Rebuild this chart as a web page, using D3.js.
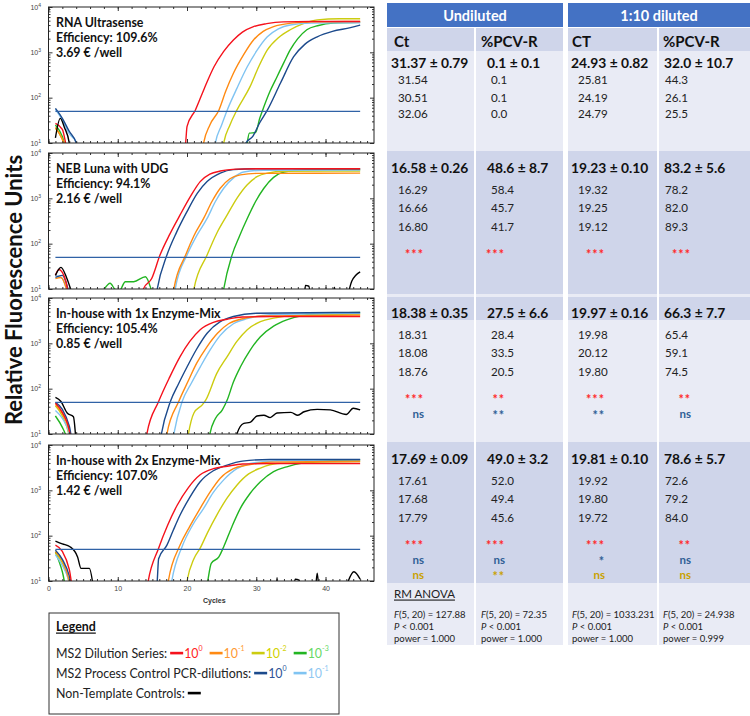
<!DOCTYPE html>
<html lang="en">
<head>
<meta charset="UTF-8">
<title>MS2 qPCR comparison</title>
<script src="https://d3js.org/d3.v7.min.js"></script>
<style>
  body { margin: 0; background: #fff; }
  svg { font-family: Lato, "Open Sans", sans-serif; }
  .tick text { font-family: "Liberation Sans", Arial, sans-serif; font-size: 7px; fill: #444; }
  .tick line { stroke: #333; }
</style>
</head>
<body>
<svg width="750" height="716"></svg>
<script>
// ---- data ----
const panelTitles = ["RNA Ultrasense", "NEB Luna with UDG", "In-house with 1x Enzyme-Mix", "In-house with 2x Enzyme-Mix"];
const efficiencies = ["109.6%", "94.1%", "105.4%", "107.0%"];
const costs = ["3.69", "2.16", "0.85", "1.42"];
const threshold = 50;

// [cycle, RFU]; values under 10 fall below the axis and get clipped
const ultrasenseCurves = [
  { key: "d3", pts: [[1,25],[2,14],[3,4],[28.4,4],[28.7,10],[29,16.5],[29.9,17],[30.5,35],[31.1,63],[32,140],[33,290],[34,600],[34.9,1130],[36,2000],[37.3,3150],[39,3900],[41.1,4400],[45,4600]] },
  { key: "d2", pts: [[1,21],[1.8,14],[2.5,8],[3,4],[24.9,4],[25.3,10],[26.2,25],[27.2,53],[29.1,175],[30.4,500],[31.6,1130],[33.2,2100],[34.9,3150],[36.8,4300],[38.8,5200],[42,5500],[45,5500]] },
  { key: "pc1", pts: [[1,55],[2,32],[3,16],[4.1,10],[4.5,4],[23.7,4],[24.1,10],[25,25],[25.8,53],[27.2,160],[28.7,480],[30.1,1100],[31.6,2200],[33.2,3300],[34.9,4000],[38,4400],[45,4500]] },
  { key: "d1", pts: [[1,22],[2,12],[2.8,5],[22,4],[22.4,10],[23.3,25],[24.6,53],[25.6,140],[26.7,345],[28.2,900],[29.6,1870],[31,2900],[32.5,3700],[35,4400],[38,4700],[45,4800]] },
  { key: "pc0", pts: [[1,58],[2,35],[3,18],[4,10],[4.3,4],[28.2,4],[28.5,10],[29.5,14],[30.5,28],[31.6,53],[33.5,210],[35.4,800],[37,1500],[38.8,2200],[41,2900],[43.6,3500],[45,4000]] },
  { key: "d0", pts: [[1,27],[2,20],[3,5],[19.2,4],[19.8,10],[20,23],[21.2,53],[22.5,160],[23.9,480],[25.3,1050],[26.7,1870],[28,2800],[29.6,3700],[31.5,4300],[33.9,4700],[38,4800],[45,4800]] },
  { key: "ntc", pts: [[1,13],[1.7,35],[2.3,22],[3,10],[3.3,4],[45,4]] }
];
const nebLunaCurves = [
  { key: "d3", pts: [[1,4],[7.5,8],[8.9,13.4],[9.6,9.8],[10.2,9],[11.1,14.5],[12.3,14.5],[14,18.7],[14.8,10],[15.2,6],[24.9,4],[25.3,10],[26.5,56],[27.6,150],[28.7,360],[29.9,850],[31.1,1670],[32.5,2900],[34,3800],[37,4250],[45,4300]] },
  { key: "d2", pts: [[1,4],[20.6,4],[21,10],[22.9,56],[24.3,170],[25.8,430],[27.2,1000],[28.7,2000],[30.1,3000],[31.6,3600],[34,3950],[45,4000]] },
  { key: "pc1", pts: [[1,20],[2,17],[3,6],[3.4,4],[17.9,4],[18.3,10],[20,56],[21.4,150],[22.9,360],[24.1,850],[25.3,1670],[26.8,2900],[28.2,3800],[31,4150],[45,4200]] },
  { key: "d1", pts: [[1,17],[1.8,18],[2.8,8],[3.3,4],[17.7,4],[18.1,10],[19.8,56],[21,150],[22.4,360],[23.6,850],[24.8,1670],[26.2,2700],[27.7,3300],[30,3550],[45,3600]] },
  { key: "pc0", pts: [[1,18],[2,20],[3,8],[3.5,4],[15.3,4],[15.7,10],[17.1,56],[18.5,180],[20,510],[21.5,1300],[22.9,2340],[24.8,3600],[26.7,4300],[30,4500],[45,4500]] },
  { key: "d0", pts: [[1,20],[1.5,27],[2.5,15],[3.2,5],[13.3,5],[13.7,10],[14.9,17],[16.1,56],[17.5,160],[19,430],[20.5,1100],[21.9,2340],[23.3,3400],[24.8,4000],[27,4400],[30,4500],[45,4500]] },
  { key: "ntc", pts: [[1,20],[1.8,30],[2.6,18],[3.4,8],[4,4],[36.8,4],[37.1,12],[37.6,11.5],[38,4],[41,4],[41.3,11],[41.6,4],[43,6],[43.8,15],[45,24]] }
];
const inhouse1xCurves = [
  { key: "d3", pts: [[1,25],[2,14],[2.8,7],[3.2,4],[22.9,4],[23.3,10],[24.1,22],[25.1,34],[25.8,56],[26.7,140],[27.7,300],[29.1,700],[30.6,1400],[32.5,2400],[34.4,3300],[39,4500],[45,4800]] },
  { key: "d2", pts: [[1,42],[2,25],[3,9],[3.4,4],[19.8,4],[20.2,10],[21,29],[22.2,44],[22.7,56],[24.3,218],[25.8,510],[27.2,1100],[28.7,2000],[30.6,3000],[32.5,3600],[36,4200],[45,4400]] },
  { key: "pc1", pts: [[1,33],[2,22],[3,10],[3.5,4],[17.7,4],[18.1,10],[19.3,52],[20.6,130],[21.9,300],[23.3,700],[24.8,1500],[26.7,2700],[28.7,3500],[32,4300],[45,4600]] },
  { key: "d1", pts: [[1,45],[2,28],[3,12],[3.6,4],[16.7,4],[17.1,10],[18.8,52],[20.1,140],[21.4,365],[22.9,850],[24.4,1670],[26,2700],[27.7,3400],[31,4000],[45,4200]] },
  { key: "pc0", pts: [[1,50],[2,35],[3,15],[3.8,4],[15.9,4],[16.3,10],[17.6,52],[18.8,130],[20,300],[21.4,750],[22.9,1670],[24.8,3000],[26.7,3900],[30,4600],[45,4800]] },
  { key: "d0", pts: [[1,48],[2,30],[3,12],[3.5,4],[13.8,4],[14.2,10],[15.9,52],[17.5,180],[19,510],[20.4,1100],[21.9,2000],[23.8,2900],[25.8,3400],[28,3800],[32,3900],[45,3900]] },
  { key: "ntc", pts: [[1,64],[1.8,52],[2.7,29],[3.6,24],[4.2,4],[26.9,4],[27.2,10],[28.2,17.2],[29.1,18],[30.1,25],[31.1,26],[32,23],[33,29],[35,30],[36,26],[36.9,31],[38.8,35],[40.7,34],[43,27],[44,37],[45,34]] }
];
const inhouse2xCurves = [
  { key: "d3", pts: [[1,44],[2,16],[2.8,5],[22.6,4],[23,10],[23.5,24.6],[24.6,34],[25.3,57],[26.5,160],[27.7,400],[29.1,850],[30.6,1550],[32.5,2600],[34.4,3300],[39,4400],[45,4700]] },
  { key: "d2", pts: [[1,42],[2,25],[3,9],[3.4,4],[19.6,4],[20,10],[21,31],[21.9,53],[23,120],[24.3,285],[25.7,650],[27.2,1300],[28.9,2300],[30.6,3100],[33,3900],[45,4300]] },
  { key: "pc1", pts: [[1,38],[2,22],[3,9],[3.4,4],[17.4,4],[17.8,10],[19.3,58],[20.8,170],[22.4,400],[23.8,900],[25.3,1700],[27.2,3000],[29.1,3900],[33,4500],[45,4700]] },
  { key: "d1", pts: [[1,44],[2,28],[3,10],[3.5,4],[16.9,4],[17.3,10],[19,62],[20.4,160],[21.9,400],[23.3,900],[24.8,1850],[26.7,3000],[28.7,3600],[32,4200],[45,4400]] },
  { key: "pc0", pts: [[1,48],[2,30],[3,13],[3.7,4],[15.4,4],[15.7,10],[15.9,31],[17.1,62],[18,130],[19,285],[20.4,700],[21.9,1550],[23.8,2700],[25.8,3600],[28,4400],[32,4800],[45,4800]] },
  { key: "d0", pts: [[1,62],[2,45],[3,18],[3.8,4],[14,4],[14.4,10],[15.9,53],[17.2,170],[18.6,475],[20.2,1150],[21.9,2200],[23.8,3000],[25.8,3400],[28,3800],[32,3900],[45,3900]] },
  { key: "ntc", pts: [[1,76],[2,66],[3.1,57],[4.2,34],[4.7,19],[5.9,19],[6.9,4],[32.8,4],[33,11.8],[33.2,4],[35.3,4],[35.6,11],[36.2,10.5],[36.5,4],[38.4,4],[38.8,14.8],[39.2,4],[42,4],[44.1,16],[45,11]] }
];
const panelCurves = [ultrasenseCurves, nebLunaCurves, inhouse1xCurves, inhouse2xCurves];

const groupHeaders = ["Undiluted", "1:10 diluted"];
const columnHeaders = ["Ct", "%PCV-R", "CT", "%PCV-R"];
const meanValues = [
  ["31.37 ± 0.79", "0.1 ± 0.1", "24.93 ± 0.82", "32.0 ± 10.7"],
  ["16.58 ± 0.26", "48.6 ± 8.7", "19.23 ± 0.10", "83.2 ± 5.6"],
  ["18.38 ± 0.35", "27.5 ± 6.6", "19.97 ± 0.16", "66.3 ± 7.7"],
  ["17.69 ± 0.09", "49.0 ± 3.2", "19.81 ± 0.10", "78.6 ± 5.7"]
];
const replicates = [
  [["31.54", "0.1", "25.81", "44.3"], ["30.51", "0.1", "24.19", "26.1"], ["32.06", "0.0", "24.79", "25.5"]],
  [["16.29", "58.4", "19.32", "78.2"], ["16.66", "45.7", "19.25", "82.0"], ["16.80", "41.7", "19.12", "89.3"]],
  [["18.31", "28.4", "19.98", "65.4"], ["18.08", "33.5", "20.12", "59.1"], ["18.76", "20.5", "19.80", "74.5"]],
  [["17.61", "52.0", "19.92", "72.6"], ["17.68", "49.4", "19.80", "79.2"], ["17.79", "45.6", "19.72", "84.0"]]
];
const sigVsUltrasense = [null, ["***", "***", "***", "***"], ["***", "**", "***", "**"], ["***", "***", "***", "**"]];
const sigVsNeb = [null, null, ["ns", "**", "**", "ns"], ["ns", "ns", "*", "ns"]];
const sigVs1x = [null, null, null, ["ns", "**", "ns", "ns"]];
const anovaF = ["127.88", "72.35", "1033.231", "24.938"];
const anovaPower = ["1.000", "1.000", "1.000", "0.999"];

// ---- styles ----
const lineColors = { d0: "#f5121c", d1: "#ff8a12", d2: "#cccc10", d3: "#22b522", pc0: "#1c4a8c", pc1: "#80c4f2", ntc: "#000" };
const legendTextColors = { d0: "#ff1f1f", d1: "#ff9933", d2: "#d2d200", d3: "#66d966", pc0: "#2f5597", pc1: "#90c8f2" };

let svg = d3.select("svg");
svg.append("rect").attr("width", 750).attr("height", 716).attr("fill", "#fff");

// ---- amplification panels ----
let panelTops = [7, 153, 298, 445];
let panelH = 136;
let x = d3.scaleLinear().domain([0, 47]).range([48.5, 374]);

panelTops.forEach((top, i) => {
  let y = d3.scaleLog().domain([10, 10000]).range([top + panelH, top]);
  let g = svg.append("g");

  g.append("clipPath").attr("id", "clip" + i)
    .append("rect").attr("x", x(0)).attr("y", top).attr("width", x(47) - x(0)).attr("height", panelH);

  let line = d3.line()
    .x(d => x(d[0]))
    .y(d => y(d[1]))
    .curve(d3.curveMonotoneX);

  let plot = g.append("g").attr("clip-path", `url(#clip${i})`);
  plot.selectAll(".curve")
    .data(panelCurves[i])
    .enter().append("path")
    .attr("class", "curve")
    .attr("d", d => line(d.pts))
    .attr("fill", "none")
    .attr("stroke", d => lineColors[d.key])
    .attr("stroke-width", 1.4);

  plot.append("line")
    .attr("x1", x(1)).attr("x2", x(45))
    .attr("y1", y(threshold)).attr("y2", y(threshold))
    .attr("stroke", "#3062a6").attr("stroke-width", 1.2);

  // ticks (inward on all sides)
  let minorY = [];
  [10, 100, 1000].forEach(dec => { for (let k = 2; k < 10; k++) minorY.push(dec * k); });

  g.append("g").attr("transform", `translate(0,${top + panelH})`)
    .call(d3.axisBottom(x).tickValues(d3.range(0, 47, 1)).tickSize(-2).tickFormat(""));
  g.append("g").attr("transform", `translate(0,${top + panelH})`)
    .call(d3.axisBottom(x).tickValues(d3.range(0, 41, 10)).tickSize(-4).tickPadding(5)
      .tickFormat(i === 3 ? d3.format("d") : ""));
  g.append("g").attr("transform", `translate(0,${top})`)
    .call(d3.axisTop(x).tickValues(d3.range(0, 47, 2)).tickSize(-2).tickFormat(""));
  g.append("g").attr("transform", `translate(0,${top})`)
    .call(d3.axisTop(x).tickValues(d3.range(0, 41, 10)).tickSize(-4).tickFormat(""));
  g.append("g").attr("transform", `translate(${x(0)},0)`)
    .call(d3.axisLeft(y).tickValues(minorY).tickSize(-2).tickFormat(""));
  g.append("g").attr("transform", `translate(${x(0)},0)`)
    .call(d3.axisLeft(y).tickValues([10, 100, 1000, 10000]).tickSize(-4).tickFormat(""));
  g.append("g").attr("transform", `translate(${x(47)},0)`)
    .call(d3.axisRight(y).tickValues(minorY).tickSize(-2).tickFormat(""));
  g.append("g").attr("transform", `translate(${x(47)},0)`)
    .call(d3.axisRight(y).tickValues([10, 100, 1000, 10000]).tickSize(-4).tickFormat(""));
  g.selectAll(".domain").remove();

  // log labels 10^n
  let lab = g.selectAll(".ylab").data([10, 100, 1000, 10000]).enter().append("text")
    .attr("class", "ylab")
    .attr("x", 41).attr("y", d => y(d) + 2.5)
    .attr("text-anchor", "end")
    .style("font-family", "'Liberation Sans', Arial, sans-serif")
    .style("font-size", "7px").attr("fill", "#444");
  lab.append("tspan").text("10");
  lab.append("tspan").attr("dy", -3).style("font-size", "5px").text(d => Math.round(Math.log10(d)));

  g.append("rect")
    .attr("x", x(0)).attr("y", top).attr("width", x(47) - x(0)).attr("height", panelH)
    .attr("fill", "none").attr("stroke", "#222").attr("stroke-width", 1);

  let info = [panelTitles[i], "Efficiency: " + efficiencies[i], costs[i] + " € /well"];
  g.selectAll(".info").data(info).enter().append("text")
    .attr("x", 56).attr("y", (d, k) => top + 15 + k * 15)
    .attr("dominant-baseline", "central")
    .attr("font-weight", "bold").attr("font-size", "12.4px").attr("fill", "#111")
    .text(d => d);

  if (i === 3) {
    g.append("text").attr("x", (x(0) + x(47)) / 2 + 3).attr("y", top + panelH + 19)
      .attr("text-anchor", "middle").attr("dominant-baseline", "central")
      .style("font-family", "'Liberation Sans', Arial, sans-serif")
      .attr("font-weight", "bold").attr("font-size", "7px").attr("fill", "#333")
      .text("Cycles");
  }
});

svg.append("text")
  .attr("transform", "translate(13,290) rotate(-90)")
  .attr("text-anchor", "middle").attr("dominant-baseline", "central")
  .attr("font-weight", "bold").attr("font-size", "22px").attr("fill", "#111")
  .text("Relative Fluorescence Units");

// ---- legend ----
let lg = svg.append("g");
lg.append("rect").attr("x", 49).attr("y", 613).attr("width", 290).attr("height", 101)
  .attr("fill", "#fff").attr("stroke", "#333").attr("stroke-width", 1);
lg.append("text").attr("x", 56).attr("y", 626).attr("dominant-baseline", "central")
  .attr("font-weight", "bold").attr("font-size", "12.4px").attr("fill", "#111")
  .attr("text-decoration", "underline").text("Legend");

let legendRows = [
  { label: "MS2 Dilution Series:", items: [["d0", "0"], ["d1", "-1"], ["d2", "-2"], ["d3", "-3"]], y: 653 },
  { label: "MS2 Process Control PCR-dilutions:", items: [["pc0", "0"], ["pc1", "-1"]], y: 673 },
  { label: "Non-Template Controls:", items: [["ntc", null]], y: 693 }
];
legendRows.forEach(row => {
  let t = lg.append("text").attr("x", 56).attr("y", row.y).attr("dominant-baseline", "central")
    .attr("font-size", "12.4px").attr("fill", "#222").text(row.label);
  let cx = 56 + t.node().getComputedTextLength() + 3;
  row.items.forEach(([key, exp]) => {
    lg.append("rect").attr("x", cx).attr("y", row.y - 1.2).attr("width", 13).attr("height", 2.6)
      .attr("fill", lineColors[key]);
    cx += 14;
    if (exp !== null) {
      let tt = lg.append("text").attr("x", cx).attr("y", row.y).attr("dominant-baseline", "central")
        .attr("font-size", "12.4px").attr("fill", legendTextColors[key]);
      tt.append("tspan").text("10");
      tt.append("tspan").attr("dy", -5).attr("font-size", "7px").text(exp);
      cx += tt.node().getComputedTextLength() + 7;
    }
  });
});

// ---- table ----
let tb = svg.append("g");
let colX0 = [387, 476, 568, 659];
let colX1 = [474, 563, 657, 750];
let dark = "#cfd5ea", light = "#e9ebf5";
let bands = [[28, 51, dark], [51, 151, light], [151, 294, dark], [294, 297, light], [297, 320, dark],
             [320, 442, light], [442, 583, dark], [583, 645, light]];
colX0.forEach((x0, c) => {
  bands.forEach(b => {
    tb.append("rect").attr("x", x0).attr("y", b[0]).attr("width", colX1[c] - x0).attr("height", b[1] - b[0])
      .attr("fill", b[2]);
  });
});
[[387, 563], [568, 750]].forEach((r, k) => {
  tb.append("rect").attr("x", r[0]).attr("y", 3).attr("width", r[1] - r[0]).attr("height", 24).attr("fill", "#4472c4");
  tb.append("text").attr("x", (r[0] + r[1]) / 2).attr("y", 15.5)
    .attr("text-anchor", "middle").attr("dominant-baseline", "central")
    .attr("font-weight", "bold").attr("font-size", "14.5px").attr("fill", "#fff")
    .text(groupHeaders[k]);
});
let headX = [394, 481, 572, 663];
columnHeaders.forEach((h, c) => {
  tb.append("text").attr("x", headX[c]).attr("y", 41).attr("dominant-baseline", "central")
    .attr("font-weight", "bold").attr("font-size", "15px").attr("fill", "#111").text(h);
});

let sectionY = [62, 167, 312, 458];
let meanX = [391, 487, 571, 664];
let repX = [398, 491, 578, 665];
let sigX = [424, 505, 605, 691];
sectionY.forEach((sy, s) => {
  meanValues[s].forEach((v, c) => {
    tb.append("text").attr("x", meanX[c]).attr("y", sy).attr("dominant-baseline", "central")
      .attr("font-weight", "bold").attr("font-size", "13.8px").attr("fill", "#111").text(v);
  });
  let offs = s === 0 ? [17, 35, 51.5] : [22, 40.5, 59];
  replicates[s].forEach((row, r) => {
    row.forEach((v, c) => {
      tb.append("text").attr("x", repX[c]).attr("y", sy + offs[r]).attr("dominant-baseline", "central")
        .attr("font-size", "11.6px").attr("fill", "#222").text(v);
    });
  });
  [[sigVsUltrasense, "#ff2a2a", 86], [sigVsNeb, "#2f5f95", 102], [sigVs1x, "#c9a100", 117]].forEach(([arr, col, off]) => {
    if (!arr[s]) return;
    arr[s].forEach((v, c) => {
      let star = v.startsWith("*");
      tb.append("text").attr("x", sigX[c]).attr("y", sy + off + (star ? 6 : 4))
        .attr("text-anchor", "end")
        .attr("font-weight", star ? "bold" : "bold")
        .attr("font-size", star ? "12.5px" : "11.5px").attr("fill", col)
        .attr("letter-spacing", star ? "1px" : "0").text(v);
    });
  });
});

tb.append("text").attr("x", 394).attr("y", 593).attr("dominant-baseline", "central")
  .attr("font-size", "11.5px").attr("fill", "#222").attr("text-decoration", "underline").text("RM ANOVA");
let anovaX = [394, 481, 572, 663];
anovaF.forEach((f, c) => {
  let l1 = tb.append("text").attr("x", anovaX[c]).attr("y", 614).attr("dominant-baseline", "central")
    .attr("font-size", "9.5px").attr("fill", "#222");
  l1.append("tspan").attr("font-style", "italic").text("F");
  l1.append("tspan").text(`(5, 20) = ${f}`);
  let l2 = tb.append("text").attr("x", anovaX[c]).attr("y", 626).attr("dominant-baseline", "central")
    .attr("font-size", "9.5px").attr("fill", "#222");
  l2.append("tspan").attr("font-style", "italic").text("P");
  l2.append("tspan").text(" < 0.001");
  tb.append("text").attr("x", anovaX[c]).attr("y", 638).attr("dominant-baseline", "central")
    .attr("font-size", "9.5px").attr("fill", "#222").text(`power = ${anovaPower[c]}`);
});
</script>
</body>
</html>
